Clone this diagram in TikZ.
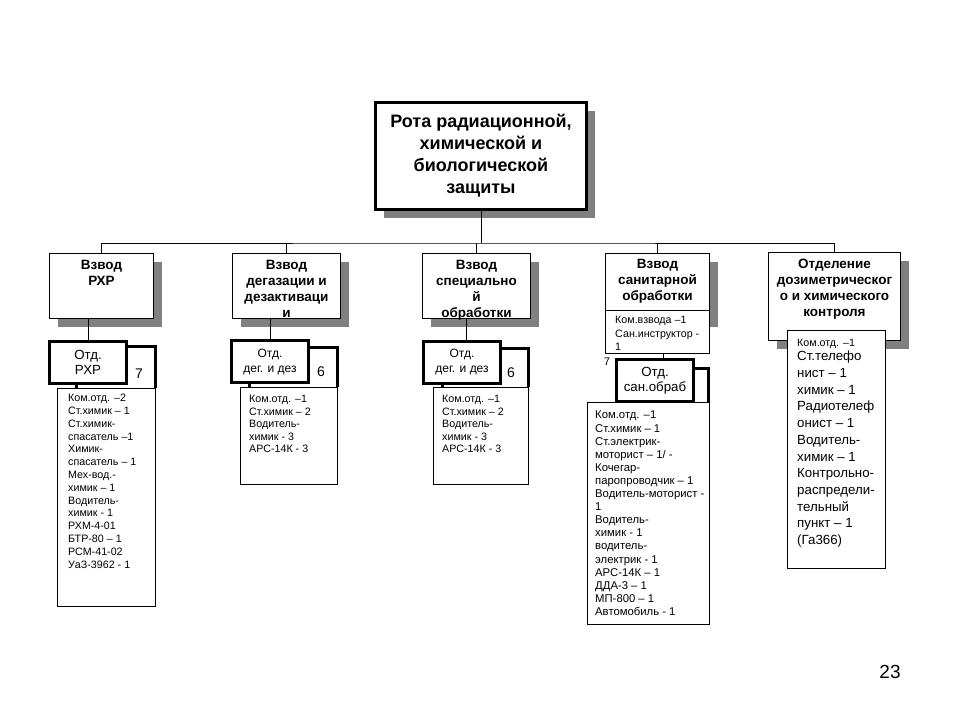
\documentclass[tikz,border=0pt]{standalone}
\usepackage{fontspec}
\setmainfont{Liberation Sans}
\usetikzlibrary{shadows}

\begin{document}
\begin{tikzpicture}[x=1pt,y=-1pt,
    box/.style={draw, fill=white, line width=1pt, inner sep=0pt, anchor=north west},
    heavy/.style={box, line width=3pt},
    shadowed/.style={drop shadow={shadow xshift=8pt, shadow yshift=-8pt, fill=black!50, opacity=1}},
    card/.style={anchor=north east, inner sep=0pt},
    hdr/.style={anchor=north, align=center, inner sep=0pt, font=\fontsize{13.5}{16}\selectfont\bfseries},
    otd/.style={heavy, align=center, font=\fontsize{13.3}{15}\selectfont},
    lst/.style={anchor=north west, align=left, inner sep=0pt, font=\fontsize{10.7}{12.5}\selectfont},
    num/.style={inner sep=0pt, font=\fontsize{14}{16}\selectfont}]
  \useasboundingbox (0,0) rectangle (960,720);

  % company
  \node[heavy, shadowed, align=center, minimum width=211pt, minimum height=107pt,
        font=\fontsize{18}{22}\selectfont\bfseries] (R) at (374,101)
        {Рота радиационной,\\химической и\\биологической\\защиты};

  % platoons
  \node[box, shadowed, minimum width=104pt, minimum height=65pt] (V1) at (49,253) {};
  \node[box, shadowed, minimum width=108pt, minimum height=65pt] (V2) at (232,253) {};
  \node[box, shadowed, minimum width=108pt, minimum height=65pt] (V3) at (422,253) {};
  \node[box, shadowed, minimum width=104pt, minimum height=65pt] (V4) at (605,253) {};
  \node[box, shadowed, minimum width=132pt, minimum height=88pt] (V5) at (768,252) {};
  \node[hdr] at ([yshift=-7pt]V1.north) {Взвод\\РХР};
  \node[hdr] at ([yshift=-7pt]V2.north) {Взвод\\дегазации и\\дезактиваци\\и};
  \node[hdr] at ([yshift=-7pt]V3.north) {Взвод\\специально\\й\\обработки};
  \node[hdr] at ([yshift=-6pt]V4.north) {Взвод\\санитарной\\обработки};
  \node[hdr] at ([yshift=-7pt]V5.north) {Отделение\\дозиметрическог\\о и химического\\контроля};

  \node[box, minimum width=104pt, minimum height=43pt] (S4) at (605,310) {};
  \node[lst, font=\fontsize{10.7}{13.5}\selectfont] at ([xshift=10pt,yshift=-6pt]S4.north west)
        {Ком.взвода –1\\Сан.инструктор -\\1};

  % back cards with numbers
  \node[card, minimum width=60pt, minimum height=42pt] (N1) at (155,346) {};
  \node[card, minimum width=60pt, minimum height=40pt] (N2) at (337,347) {};
  \node[card, minimum width=60pt, minimum height=39pt] (N3) at (528,348) {};
  \node[card, minimum width=50pt, minimum height=34pt] (N4) at (708,368) {};
  \foreach \n in {N1,N2,N3,N4}
    \draw[line width=3pt] (\n.north west) -- (\n.north east) -- (\n.south east);
  \node[num] at (139,374) {7};
  \node[num] at (321,372) {6};
  \node[num] at (511,373) {6};
  \node[num, font=\fontsize{11}{13}\selectfont] at (607,362) {7};

  % staff lists
  \node[box, minimum width=98pt, minimum height=218pt] (L1) at (57,388) {};
  \node[box, minimum width=97pt, minimum height=97pt] (L2) at (240,387) {};
  \node[box, minimum width=95pt, minimum height=97pt] (L3) at (433,387) {};
  \node[box, minimum width=122pt, minimum height=222pt] (L4) at (587,402) {};
  \node[box, minimum width=98pt, minimum height=238pt] (L5) at (787,330) {};
  \node[lst, font=\fontsize{10.7}{12.8}\selectfont] at ([xshift=11pt,yshift=-6pt]L1.north west)
        {Ком.отд. –2\\Ст.химик – 1\\Ст.химик-\\спасатель –1\\Химик-\\спасатель – 1\\Мех-вод.-\\химик – 1\\Водитель-\\химик - 1\\РХМ-4-01\\БТР-80 – 1\\РСМ-41-02\\УаЗ-3962 - 1};
  \node[lst] at ([xshift=9pt,yshift=-8pt]L2.north west)
        {Ком.отд. –1\\Ст.химик – 2\\Водитель-\\химик - 3\\АРС-14К - 3};
  \node[lst] at ([xshift=9pt,yshift=-8pt]L3.north west)
        {Ком.отд. –1\\Ст.химик – 2\\Водитель-\\химик - 3\\АРС-14К - 3};
  \node[lst, font=\fontsize{11.3}{13.1}\selectfont] at ([xshift=8pt,yshift=-9pt]L4.north west)
        {Ком.отд. –1\\Ст.химик – 1\\Ст.электрик-\\моторист – 1/ -\\Кочегар-\\паропроводчик – 1\\Водитель-моторист -\\1\\Водитель-\\химик - 1\\водитель-\\электрик - 1\\АРС-14К – 1\\ДДА-3 – 1\\МП-800 – 1\\Автомобиль - 1};
  \node[lst] at ([xshift=10pt,yshift=-9pt]L5.north west) {Ком.отд. –1};
  \node[lst, font=\fontsize{13.3}{16.7}\selectfont] at ([xshift=10pt,yshift=-21pt]L5.north west)
        {Ст.телефо\\нист – 1\\химик – 1\\Радиотелеф\\онист – 1\\Водитель-\\химик – 1\\Контрольно-\\распредели-\\тельный\\пункт – 1\\(Га366)};

  % squads
  \node[otd, minimum width=77pt, minimum height=42pt] (O1) at (48,340) {Отд.\\РХР};
  \node[otd, minimum width=77pt, minimum height=42pt, font=\fontsize{12}{15}\selectfont] (O2) at (230,339) {Отд.\\дег. и дез};
  \node[otd, minimum width=77pt, minimum height=42pt, font=\fontsize{12}{15}\selectfont] (O3) at (422,340) {Отд.\\дег. и дез};
  \node[otd, minimum width=77pt, minimum height=42pt] (O4) at (615,358) {Отд.\\сан.обраб};

  % connectors
  \coordinate (bus) at (480,243);
  \draw[line width=1pt] (R.south) -- (R.south |- bus);
  \draw[line width=1pt] (V1.north) |- (bus) -| (V5.north);
  \foreach \v in {V2,V3,V4}
    \draw[line width=1pt] (\v.north) -- (\v.north |- bus);
  \draw[line width=1pt] (O1.north) -- (O1.north |- V1.south);
  \draw[line width=1pt] (O2.north) -- (O2.north |- V2.south);
  \draw[line width=1pt] ([xshift=4pt]O3.north) -- ([xshift=4pt]O3.north |- V3.south);
  \draw[line width=1pt] ([xshift=8pt]O4.north) -- ([xshift=8pt]O4.north |- S4.south);
  \draw[line width=3pt] ([xshift=28pt]O1.south west) -- ([xshift=28pt]O1.south west |- L1.north);
  \draw[line width=3pt] ([xshift=19pt]O2.south west) -- ([xshift=19pt]O2.south west |- L2.north);
  \draw[line width=3pt] ([xshift=20pt]O3.south west) -- ([xshift=20pt]O3.south west |- L3.north);
  \draw[line width=3pt] ([xshift=8pt]O4.south west) -- ([xshift=8pt]O4.south west |- L4.north);

  \node[font=\fontsize{19}{22}\selectfont] (pg) at (890,672) {23};
\end{tikzpicture}
\end{document}
